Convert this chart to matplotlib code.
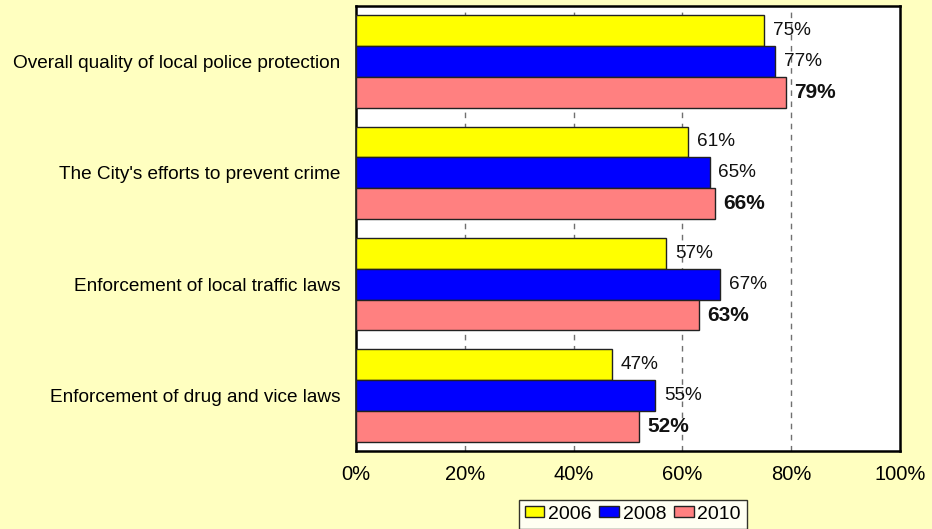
import numpy as np
import matplotlib
matplotlib.use("Agg")
from matplotlib import pyplot as plt

plt.rcParams["font.family"] = ["Liberation Sans", "DejaVu Sans"]

categories = [
    "Overall quality of local police protection",
    "The City's efforts to prevent crime",
    "Enforcement of local traffic laws",
    "Enforcement of drug and vice laws",
]
years = ["2006", "2008", "2010"]
values_2006 = [75, 61, 57, 47]
values_2008 = [77, 65, 67, 55]
values_2010 = [79, 66, 63, 52]
colors = ["#FFFF00", "#0000FF", "#FF8080"]
tick_labels = ["0%", "20%", "40%", "60%", "80%", "100%"]

series = [values_2006, values_2008, values_2010]
bg = "#FFFFC0"

fig = plt.figure(figsize=(9.32, 5.29), dpi=100, facecolor=bg)
ax = fig.add_axes([356 / 932, 1 - 451 / 529, 544 / 932, 445 / 529])
ax.set_facecolor("white")

gap = 0.6
pitch = 3 + gap
for j, (vals, col, yr) in enumerate(zip(series, colors, years)):
    ypos = [gap / 2 + i * pitch + j + 0.5 for i in range(len(categories))]
    ax.barh(ypos, vals, height=1.0, color=col, edgecolor="#222222",
            linewidth=1.0, label=yr, zorder=3)
    for y, v in zip(ypos, vals):
        # 2010 labels are bold
        ax.text(v + 1.6, y, f"{v}%", va="center", ha="left",
                fontsize=15 if j == 2 else 13.7,
                fontweight="bold" if j == 2 else "normal",
                color="#111111", zorder=5)

ax.set_xlim(0, 100)
ax.set_ylim(len(categories) * pitch, 0)
ax.set_xticks(np.arange(0, 101, 20))
ax.set_xticklabels(tick_labels, fontsize=14.5)
ax.set_yticks([gap / 2 + i * pitch + 1.5 for i in range(len(categories))])
ax.set_yticklabels(categories, fontsize=13.7)
ax.tick_params(axis="both", length=0)
ax.tick_params(axis="x", pad=10)
ax.tick_params(axis="y", pad=11)

for x in [20, 40, 60, 80]:
    ax.axvline(x, color="#707070", linewidth=1.0, linestyle=(0, (4, 4)), zorder=1)

for sp in ax.spines.values():
    sp.set_linewidth(1.8)
    sp.set_color("black")

leg = fig.legend(loc="upper left", bbox_to_anchor=(519 / 932, 1 - 500 / 529),
                 ncol=3, fontsize=14, frameon=True, fancybox=False,
                 handlelength=1.0, handleheight=0.5, handletextpad=0.2,
                 columnspacing=0.4, borderpad=0.3, borderaxespad=0)
leg.get_frame().set_edgecolor("black")
leg.get_frame().set_linewidth(1.0)
leg.get_frame().set_facecolor("white")

fig.savefig("out.png", dpi=100, facecolor=bg)
